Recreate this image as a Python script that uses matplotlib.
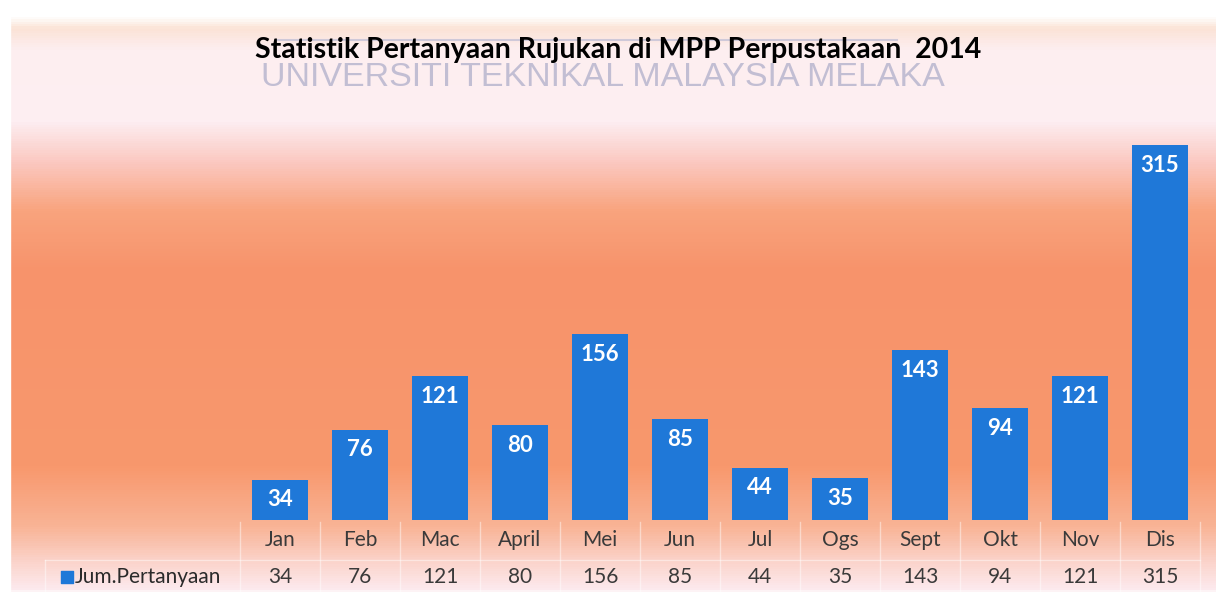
import numpy as np
import matplotlib.pyplot as plt
from matplotlib.colors import LinearSegmentedColormap
import matplotlib.transforms as mtransforms

# data
months = ['Jan', 'Feb', 'Mac', 'April', 'Mei', 'Jun', 'Jul', 'Ogs', 'Sept', 'Okt', 'Nov', 'Dis']
jum_pertanyaan = [34, 76, 121, 80, 156, 85, 44, 35, 143, 94, 121, 315]
series_name = 'Jum.Pertanyaan'
title = 'Statistik Pertanyaan Rujukan di MPP Perpustakaan  2014'
watermark = 'UNIVERSITI TEKNIKAL MALAYSIA MELAKA'

plt.rcParams['font.family'] = ['Lato', 'DejaVu Sans']

W, H = 1216, 600
fig = plt.figure(figsize=(W / 100, H / 100), dpi=100)
fig.patch.set_facecolor('white')

# background gradient (top -> bottom)
stops = [(0.00, '#ffffff'), (0.025, '#ffffff'), (0.045, '#fbe3d6'), (0.08, '#fdeef0'),
         (0.20, '#fdeef2'), (0.27, '#fbc8c0'), (0.35, '#f9a47e'), (0.45, '#f7936b'),
         (0.78, '#f8986d'), (0.88, '#f9b496'), (0.94, '#fbd4cc'), (0.985, '#fdeaee'),
         (0.992, '#ffffff'), (1.0, '#ffffff')]
cmap = LinearSegmentedColormap.from_list('bg', stops)
bg = fig.add_axes([0, 0, 1, 1], zorder=0)
grad = np.linspace(0, 1, 600).reshape(-1, 1)
bg.imshow(grad, aspect='auto', cmap=cmap, extent=[0, W, H, 0])
bg.axvspan(0, 10, color='white')
bg.set_xlim(0, W)
bg.set_ylim(H, 0)
bg.axis('off')

# main axes
left, right, bottom, top = 240, 1200, 520, 105
ax = fig.add_axes([left / W, 1 - bottom / H, (right - left) / W, (bottom - top) / H], zorder=2)
ax.patch.set_alpha(0)
x = np.arange(len(months))
bars = ax.bar(x, jum_pertanyaan, width=0.71, color='#1f78d8', zorder=3)
ax.set_xlim(-0.5, len(months) - 0.5)
ax.set_ylim(0, 349)
for s in ax.spines.values():
    s.set_visible(False)
ax.set_xticks([])
ax.set_yticks([])

for b, v in zip(bars, jum_pertanyaan):
    ax.annotate(str(v), (b.get_x() + b.get_width() / 2, v), xytext=(0, -7),
                textcoords='offset points', ha='center', va='top',
                color='white', fontsize=16, fontweight='bold', zorder=4)

# data table under the bars
ph = bottom - top
trans = mtransforms.blended_transform_factory(ax.transData, ax.transAxes)
row1 = -(540 - bottom) / ph
row2 = -(577 - bottom) / ph
for xi, m, v in zip(x, months, jum_pertanyaan):
    ax.text(xi, row1, m, transform=trans, ha='center', va='center',
            fontsize=15, color='#3a3a3a', clip_on=False)
    ax.text(xi, row2, str(v), transform=trans, ha='center', va='center',
            fontsize=15, color='#3a3a3a', clip_on=False)

grid_kw = dict(color='white', alpha=0.45, lw=1)
for xb in np.arange(-0.5, len(months), 1.0):
    ax.plot([xb, xb], [-(522 - bottom) / ph, -(595 - bottom) / ph], transform=trans,
            clip_on=False, **grid_kw)
bg.plot([45, right], [560, 560], **grid_kw)
bg.plot([45, 45], [560, 595], **grid_kw)

# row header with legend key
bg.scatter([67], [577], marker='s', s=80, color='#1f78d8', zorder=3)
bg.text(75, 577, series_name, ha='left', va='center', fontsize=15, color='#2a2a2a')

# title and watermark
fig.text((252 + 985) / 2 / W, 1 - 50 / H, title, ha='center', va='center',
         fontsize=20.5, fontweight='bold', color='black', zorder=5)
fig.text((255 + 950) / 2 / W, 1 - 77 / H, watermark, ha='center', va='center',
         fontsize=24.5, color='#b4b2cc', alpha=0.8, zorder=4,
         family=['Liberation Sans Narrow', 'Liberation Sans'])
bg.plot([277, 897], [40, 40], color='#c4c2d6', lw=1.5, alpha=0.8)

fig.savefig('out.png', dpi=100)
